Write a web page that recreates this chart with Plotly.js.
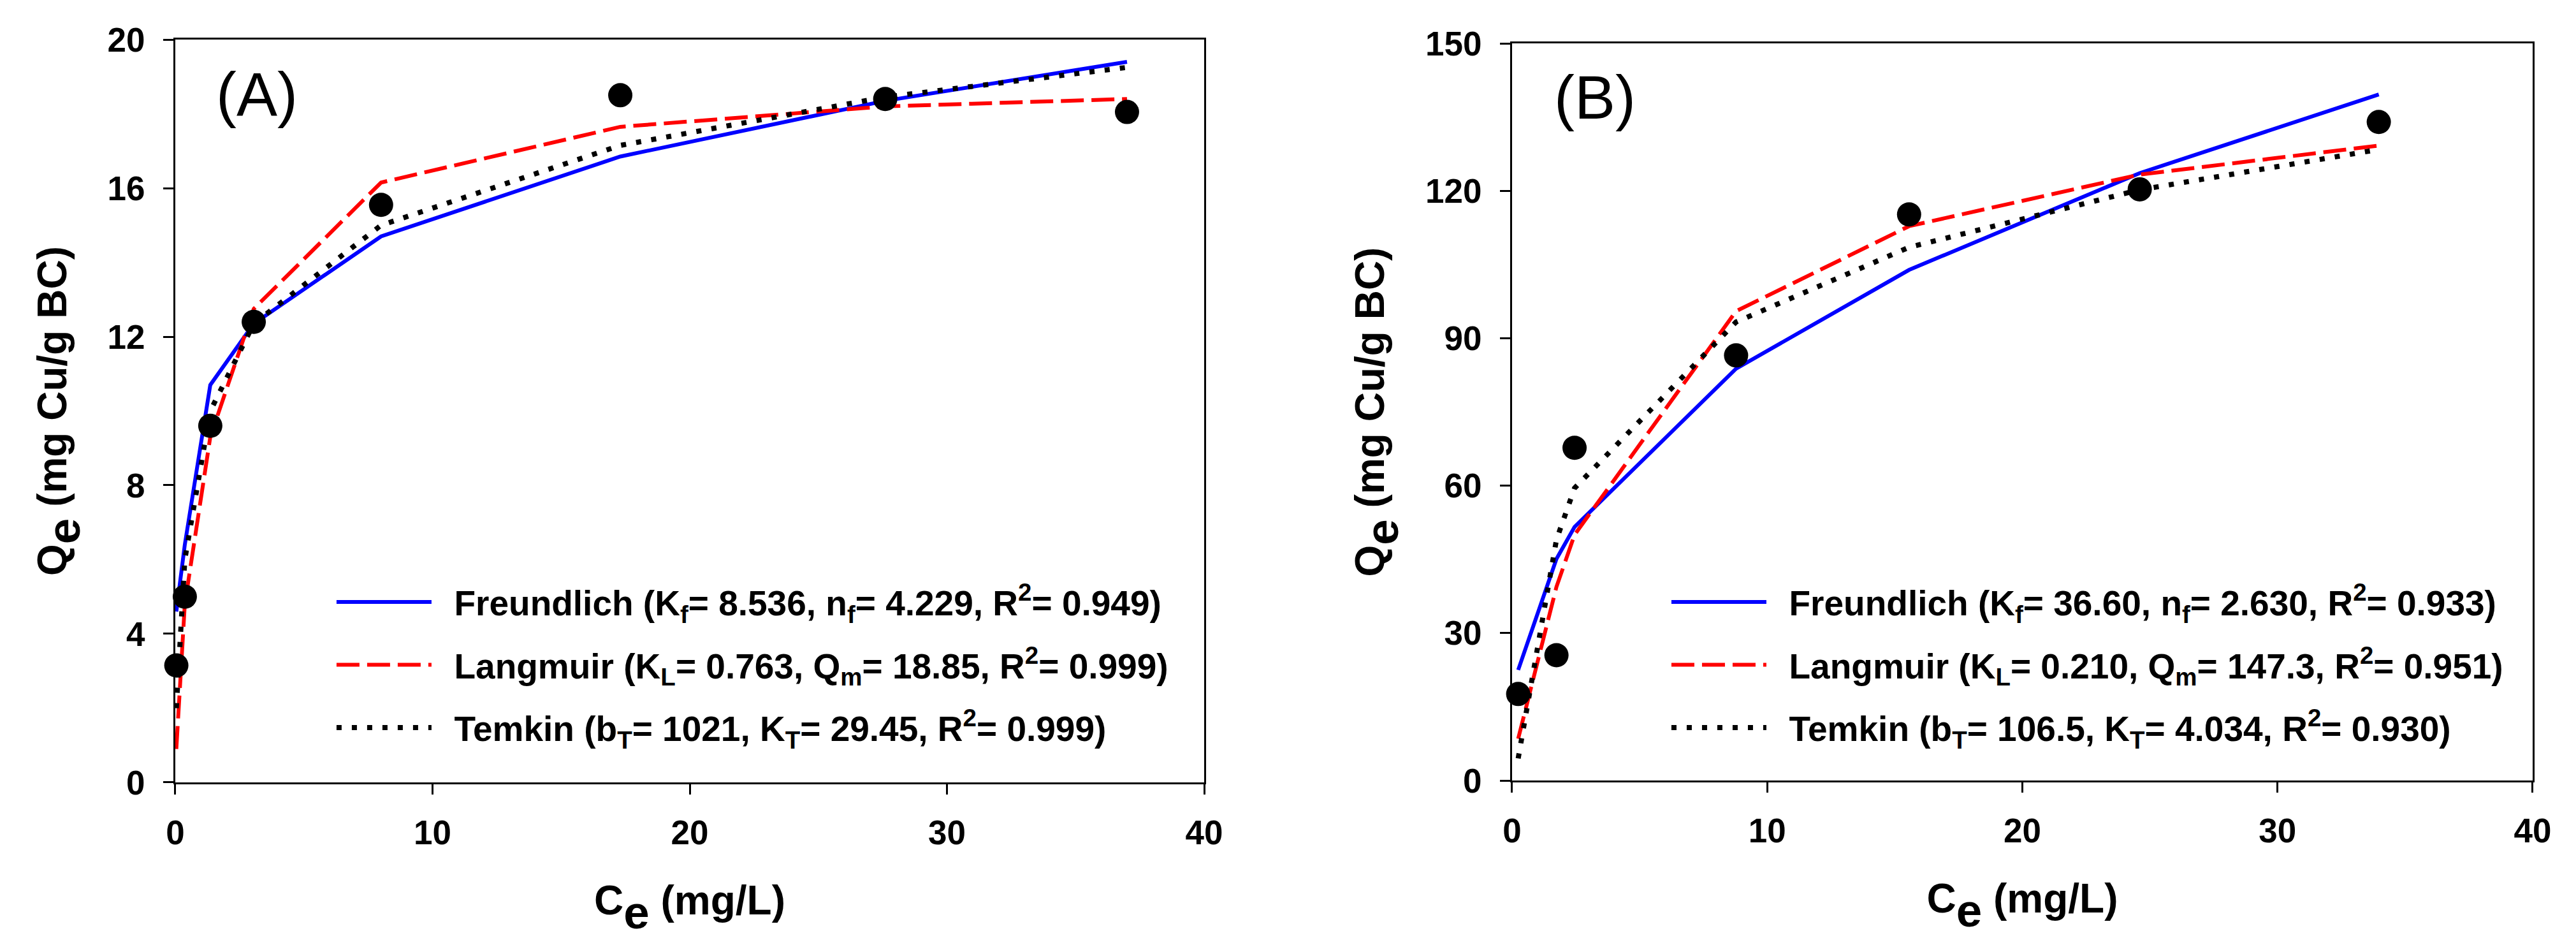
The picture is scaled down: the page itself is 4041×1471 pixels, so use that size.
<!DOCTYPE html>
<html><head><meta charset="utf-8">
<script src="https://cdn.plot.ly/plotly-3.0.1.min.js"></script>
<style>html,body{margin:0;padding:0;background:#fff}</style>
</head><body><div id="chart" style="width:4041px;height:1471px"></div>
<script>
// ---- Panel A data ----
const xA = [0.04, 0.37, 1.36, 3.05, 8.0, 17.3, 27.6, 37.0];
const qA = [3.15, 5.0, 9.6, 12.4, 15.55, 18.5, 18.4, 18.05];
const freundA = [4.6, 6.4, 10.7, 12.35, 14.7, 16.85, 18.35, 19.4];
const langA = [0.9, 4.8, 9.3, 12.75, 16.15, 17.65, 18.2, 18.4];
const temkA = [2.0, 6.0, 10.0, 12.35, 15.0, 17.15, 18.45, 19.25];
const namesA = [
  "Freundlich (K<sub>f</sub>= 8.536, n<sub>f</sub>= 4.229, R<sup>2</sup>= 0.949)",
  "Langmuir (K<sub>L</sub>= 0.763, Q<sub>m</sub>= 18.85, R<sup>2</sup>= 0.999)",
  "Temkin (b<sub>T</sub>= 1021, K<sub>T</sub>= 29.45, R<sup>2</sup>= 0.999)"
];
// ---- Panel B data ----
const xB = [0.24, 1.74, 2.45, 8.78, 15.56, 24.6, 33.97];
const qB = [17.6, 25.5, 67.7, 86.5, 115.2, 120.3, 134.0];
const freundB = [22.5, 45.1, 51.6, 83.8, 103.9, 123.6, 139.6];
const langB = [8.5, 39.4, 50.0, 95.5, 112.8, 123.3, 129.2];
const temkB = [4.5, 49.0, 59.5, 93.3, 108.5, 120.2, 128.4];
const namesB = [
  "Freundlich (K<sub>f</sub>= 36.60, n<sub>f</sub>= 2.630, R<sup>2</sup>= 0.933)",
  "Langmuir (K<sub>L</sub>= 0.210, Q<sub>m</sub>= 147.3, R<sup>2</sup>= 0.951)",
  "Temkin (b<sub>T</sub>= 106.5, K<sub>T</sub>= 4.034, R<sup>2</sup>= 0.930)"
];
const panelLabels = ["(A)", "(B)"];
const xTitle = "C<span style='font-size:104px'><sub>e</sub></span> (mg/L)";
const yTitle = "Q<span style='font-size:104px'><sub>e</sub></span> (mg Cu/g BC)";

const FONT = "Liberation Sans, Arial, sans-serif";
const pad = "\u00a0\u00a0";

function fitTraces(x, ys, names, xa, ya, leg, grp) {
  const styles = [
    {color: "#0000ff", width: 6, dash: "solid"},
    {color: "#ff0000", width: 6, dash: "36px,12px"},
    {color: "#000000", width: 8, dash: "8px,16px"}
  ];
  return ys.map((y, i) => ({
    type: "scatter", mode: "lines", x: x, y: y, xaxis: xa, yaxis: ya,
    name: pad + names[i], legend: leg, legendgroup: grp + i,
    line: styles[i], cliponaxis: false, hoverinfo: "skip"
  }));
}
function pts(x, y, xa, ya) {
  return {type: "scatter", mode: "markers", x: x, y: y, xaxis: xa, yaxis: ya,
    marker: {color: "#000", size: 38}, showlegend: false, cliponaxis: false};
}

const data = [
  ...fitTraces(xA, [freundA, langA, temkA], namesA, "x", "y", "legend", "a"),
  pts(xA, qA, "x", "y"),
  ...fitTraces(xB, [freundB, langB, temkB], namesB, "x2", "y2", "legend2", "b"),
  pts(xB, qB, "x2", "y2")
];

function xaxisCfg(domain, anchor) {
  return {domain: domain, anchor: anchor, range: [0, 40], tick0: 0, dtick: 10,
    ticks: "outside", ticklen: 16, tickwidth: 3, tickcolor: "#000",
    showline: true, mirror: true, linewidth: 3, linecolor: "#000",
    showgrid: false, zeroline: false, automargin: false, ticklabelstandoff: 14,
    tickfont: {family: FONT, size: 53, color: "#000", weight: "bold"},
    title: {text: xTitle, font: {family: FONT, size: 64, color: "#000", weight: "bold"}, standoff: 56}};
}
function yaxisCfg(domain, anchor, range, dtick) {
  return {domain: domain, anchor: anchor, range: range, tick0: 0, dtick: dtick,
    ticks: "outside", ticklen: 16, tickwidth: 3, tickcolor: "#000",
    showline: true, mirror: true, linewidth: 3, linecolor: "#000",
    showgrid: false, zeroline: false, automargin: false, ticklabelstandoff: 18,
    tickfont: {family: FONT, size: 53, color: "#000", weight: "bold"},
    title: {text: yTitle, font: {family: FONT, size: 64, color: "#000", weight: "bold"}, standoff: 44}};
}
function legendCfg(x) {
  return {x: x, xanchor: "left", y: 0.387, yanchor: "top", xref: "paper", yref: "paper",
    bgcolor: "rgba(0,0,0,0)", borderwidth: 0, itemwidth: 149, tracegroupgap: 24,
    font: {family: FONT, size: 55, color: "#000", weight: "bold"}};
}

const layout = {
  width: 4041, height: 1471, margin: {l: 0, r: 0, t: 0, b: 0},
  paper_bgcolor: "#fff", plot_bgcolor: "#fff",
  xaxis: xaxisCfg([0.06805, 0.46746], "y"),
  yaxis: yaxisCfg([0.16588, 0.95785], "x", [0, 20], 4),
  xaxis2: xaxisCfg([0.58698, 0.98317], "y2"),
  yaxis2: yaxisCfg([0.16791, 0.95377], "x2", [0, 150], 30),
  legend: legendCfg(0.1294),
  legend2: legendCfg(0.6476),
  annotations: [
    {text: panelLabels[0], xref: "x domain", yref: "y domain", x: 0.0793, y: 0.927,
     xanchor: "center", yanchor: "middle", showarrow: false,
     font: {family: FONT, size: 96, color: "#000"}},
    {text: panelLabels[1], xref: "x2 domain", yref: "y2 domain", x: 0.0812, y: 0.9265,
     xanchor: "center", yanchor: "middle", showarrow: false,
     font: {family: FONT, size: 96, color: "#000"}}
  ],
  showlegend: true
};
Plotly.newPlot("chart", data, layout, {staticPlot: true});
</script></body></html>
